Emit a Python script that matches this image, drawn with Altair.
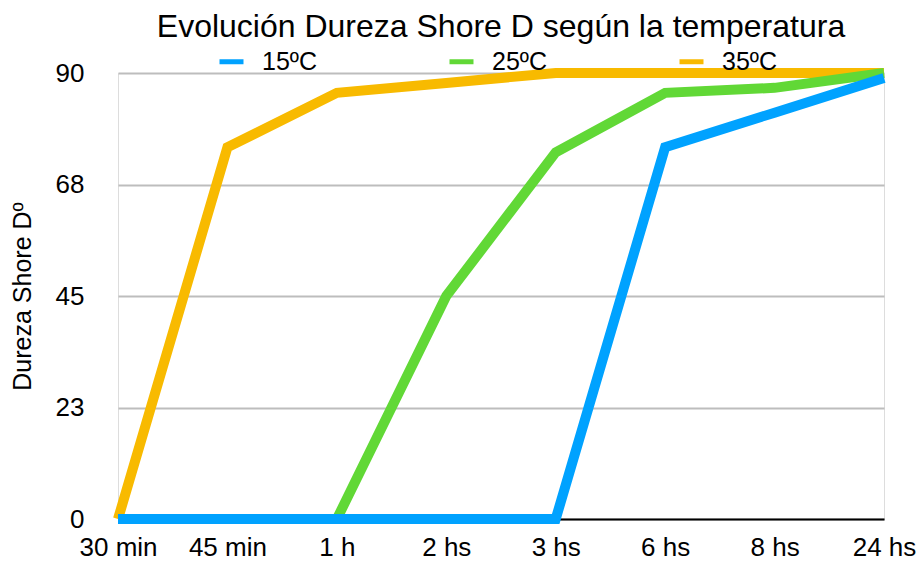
import altair as alt
import pandas as pd

categories = ["30 min", "45 min", "1 h", "2 hs", "3 hs", "6 hs", "8 hs", "24 hs"]
s15 = [0, 0, 0, 0, 0, 75, 82, 89]
s25 = [0, 0, 0, 45, 74, 86, 87, 90]
s35 = [0, 75, 86, 88, 90, 90, 90, 90]
series_names = ["15ºC", "25ºC", "35ºC"]
colors = ["#00A2FF", "#61D836", "#F8BA00"]
y_ticks = [0, 22.5, 45, 67.5, 90]

rows = []
for name, vals in zip(series_names, [s15, s25, s35]):
    for c, v in zip(categories, vals):
        rows.append({"t": c, "v": v, "serie": name})
df = pd.DataFrame(rows)

FONT = "Liberation Sans"

x_enc = alt.X("t:N", sort=categories, title=None,
              scale=alt.Scale(type="point", padding=0),
              axis=alt.Axis(labelAngle=0, ticks=False, domain=True, domainColor="#000000",
                            domainWidth=2, grid=False, labelFontSize=26, labelPadding=15,
                            labelFont=FONT, labelColor="#000000"))
y_enc = alt.Y("v:Q", title="Dureza Shore Dº",
              scale=alt.Scale(domain=[0, 90], nice=False, zero=True),
              axis=alt.Axis(values=y_ticks, format=".0f", domain=False, ticks=False,
                            gridColor="#BDBDBD", gridWidth=2, labelFontSize=26,
                            labelPadding=34, labelFont=FONT, labelColor="#000000",
                            titleFont=FONT, titleFontSize=25, titleFontWeight="normal",
                            titleColor="#000000", titlePadding=20))
color_enc = alt.Color("serie:N", sort=series_names,
                      scale=alt.Scale(domain=series_names, range=colors),
                      legend=alt.Legend(title=None, orient="none", direction="horizontal",
                                        legendX=99, legendY=-26, symbolType="stroke",
                                        symbolSize=576, symbolStrokeWidth=5,
                                        labelFontSize=25, labelFont=FONT, labelColor="#000000",
                                        labelOffset=16, columnPadding=122, padding=0))

base = alt.Chart(df).mark_line(strokeWidth=10, strokeJoin="miter", strokeCap="butt").encode(
    x=x_enc, y=y_enc, color=color_enc
)

layers = [base.transform_filter(alt.datum.serie == name) for name in ["35ºC", "25ºC", "15ºC"]]

chart = alt.layer(*layers).properties(
    width=766,
    height=446,
    title=alt.TitleParams("Evolución Dureza Shore D según la temperatura",
                          font=FONT, fontSize=32, fontWeight="normal", color="#000000",
                          anchor="middle", offset=3),
    autosize=alt.AutoSizeParams(type="none"),
    padding={"left": 110, "top": 65, "right": 32, "bottom": 43},
).configure_view(stroke=None).configure(background="#FFFFFF")

chart.save("out.html", embed_options={"renderer": "svg", "actions": False})
